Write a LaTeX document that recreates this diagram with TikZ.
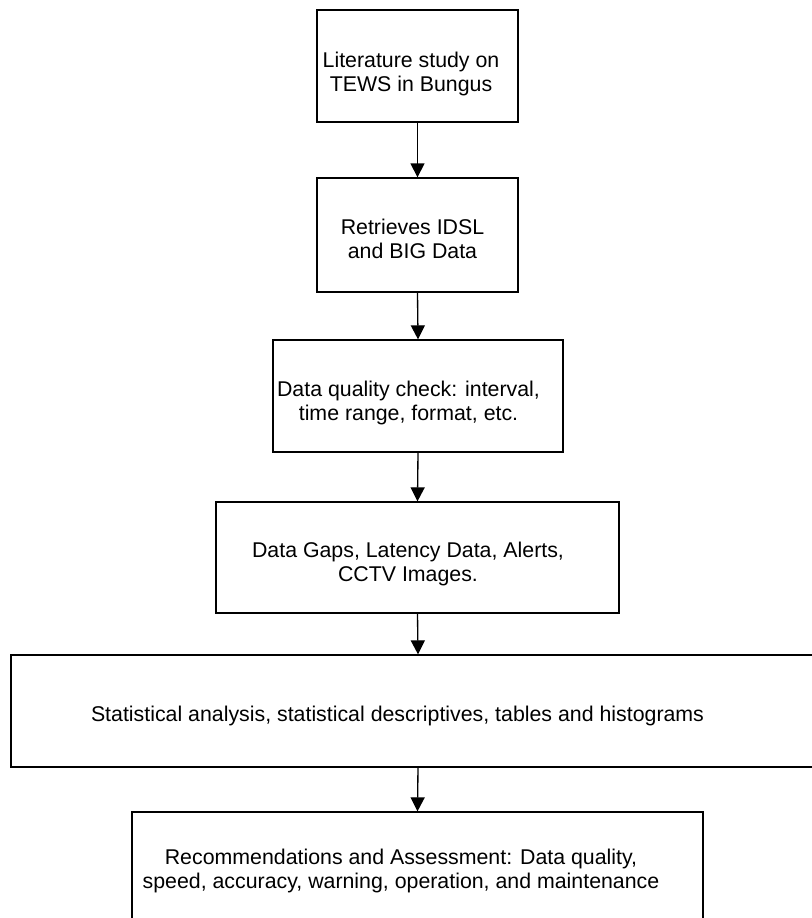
\documentclass[tikz,border=0pt]{standalone}
\usepackage{fontspec}
\setmainfont{Liberation Sans}
\usetikzlibrary{arrows.meta}
\begin{document}
\begin{tikzpicture}[x=0.75pt,y=-0.75pt,
  box/.style={draw=black,line width=1pt,rectangle,inner sep=0pt,fill=white},
  txt/.style={align=center,inner sep=0pt,font=\fontsize{16pt}{18.4pt}\selectfont},
  arr/.style={draw=black,line width=1pt,-{Triangle[length=10.5pt,width=10.5pt]}}]
\useasboundingbox (0,0) rectangle (812,918);
\clip (0,0) rectangle (812,918);
\fill[white] (0,0) rectangle (812,918);
% boxes
\node[box,minimum width={201*0.75pt},minimum height={112*0.75pt}] (b1) at (417.5,66) {};
\node[box,minimum width={201*0.75pt},minimum height={114*0.75pt}] (b2) at (417.5,235) {};
\node[box,minimum width={290*0.75pt},minimum height={112*0.75pt}] (b3) at (418,396) {};
\node[box,minimum width={403*0.75pt},minimum height={111*0.75pt}] (b4) at (417.5,557.5) {};
\node[box,minimum width={814*0.75pt},minimum height={112*0.75pt}] (b5) at (418,711) {};
\node[box,minimum width={571*0.75pt},minimum height={113*0.75pt}] (b6) at (417.5,868.5) {};
% texts
\node[txt] (t1) at (411,74) {Literature study on\\TEWS in Bungus};
\node[txt] (t2) at (412.5,239) {Retrieves IDSL\\and BIG Data};
\node[txt] (t3) at (408.5,403) {Data quality check: interval,\\time range, format, etc.};
\node[txt] (t4) at (408,564) {Data Gaps, Latency Data, Alerts,\\CCTV Images.};
\node[txt] (t5) at (397.5,716) {Statistical analysis, statistical descriptives, tables and histograms};
\node[txt] (t6) at (401,871) {Recommendations and Assessment: Data quality,\\speed, accuracy, warning, operation, and maintenance};
% arrows
\draw[arr] (b1.south) -- (b2.north);
\draw[arr] (b2.south) -- (b3.north);
\draw[arr] (b3.south) -- (b4.north);
\draw[arr] (b4.south) -- (b5.north);
\draw[arr] (b5.south) -- (b6.north);
\end{tikzpicture}
\end{document}
